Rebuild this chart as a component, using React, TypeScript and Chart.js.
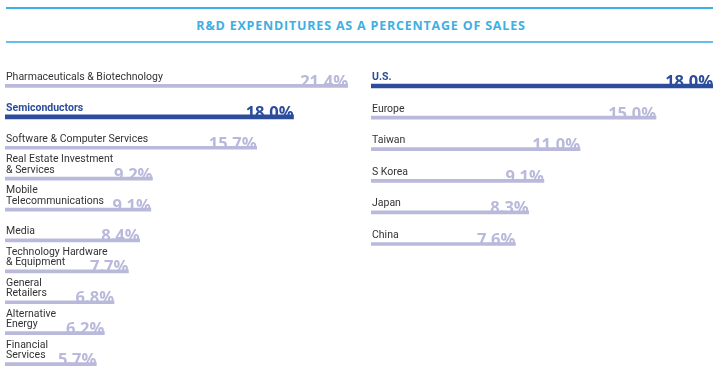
import React, { useEffect, useRef } from "react";
import { Chart, registerables } from "chart.js";

Chart.register(...registerables);

const TITLE = "R&D EXPENDITURES AS A PERCENTAGE OF SALES";

const sectorLabels: string[][] = [
  ["Pharmaceuticals & Biotechnology"],
  ["Semiconductors"],
  ["Software & Computer Services"],
  ["Real Estate Investment", "& Services"],
  ["Mobile", "Telecommunications"],
  ["Media"],
  ["Technology Hardware", "& Equipment"],
  ["General", "Retailers"],
  ["Alternative", "Energy"],
  ["Financial", "Services"],
];
const sectorValues = [21.4, 18.0, 15.7, 9.2, 9.1, 8.4, 7.7, 6.8, 6.2, 5.7];
const sectorHighlight = "Semiconductors";

const regionLabels: string[][] = [["U.S."], ["Europe"], ["Taiwan"], ["S Korea"], ["Japan"], ["China"]];
const regionValues = [18.0, 15.0, 11.0, 9.1, 8.3, 7.6];
const regionHighlight = "U.S.";

const LIGHT = "#b9b9dc";
const DARK = "#2d4d9c";
const TEXT = "#333333";
const CYAN = "#3cb0e3";

function makeLabelPlugin(highlight: string) {
  return {
    id: "barLabels",
    afterDatasetsDraw(chart: any) {
      const ctx = chart.ctx;
      chart.data.datasets.forEach((ds: any, di: number) => {
        const meta = chart.getDatasetMeta(di);
        meta.data.forEach((bar: any, i: number) => {
          const val = ds.data[i];
          if (val === null || val === undefined) return;
          const lines: string[] = chart.data.labels[i];
          const isHl = lines.join(" ") === highlight;
          ctx.save();
          ctx.textAlign = "right";
          ctx.textBaseline = "alphabetic";
          ctx.fillStyle = isHl ? DARK : LIGHT;
          ctx.font = "bold 16.5px 'Open Sans'";
          ctx.fillText(val.toFixed(1) + "%", bar.x, bar.y + 1);
          ctx.textAlign = "left";
          ctx.fillStyle = isHl ? DARK : TEXT;
          ctx.font = (isHl ? "bold " : "") + "10.5px Roboto";
          lines.forEach((ln, j) => {
            ctx.fillText(ln, bar.base + 1, bar.y - 6 - (lines.length - 1 - j) * 10.5);
          });
          ctx.restore();
        });
      });
    },
  };
}

function buildChart(
  canvas: HTMLCanvasElement,
  labels: string[][],
  values: number[],
  highlight: string,
  max: number,
  padding: { left: number; right: number; top: number; bottom: number }
) {
  const isHl = labels.map((l) => l.join(" ") === highlight);
  return new Chart(canvas, {
    type: "bar",
    data: {
      labels: labels as any,
      datasets: [
        {
          data: values.map((v, i) => (isHl[i] ? null : v)) as any,
          backgroundColor: LIGHT,
          barThickness: 3,
          grouped: false,
        } as any,
        {
          data: values.map((v, i) => (isHl[i] ? v : null)) as any,
          backgroundColor: DARK,
          barThickness: 4,
          grouped: false,
        } as any,
      ],
    },
    options: {
      indexAxis: "y",
      animation: false,
      responsive: false,
      maintainAspectRatio: false,
      layout: { padding },
      scales: {
        x: { display: false, min: 0, max },
        y: { display: false },
      },
      plugins: {
        legend: { display: false },
        tooltip: { enabled: false },
        title: { display: false },
      },
    },
    plugins: [makeLabelPlugin(highlight)],
  } as any);
}

export default function App() {
  const leftRef = useRef<HTMLCanvasElement>(null);
  const rightRef = useRef<HTMLCanvasElement>(null);

  useEffect(() => {
    const left = buildChart(leftRef.current!, sectorLabels, sectorValues, sectorHighlight, 21.4, {
      left: 5,
      right: 12,
      top: 70.5,
      bottom: 3.5,
    });
    const right = buildChart(rightRef.current!, regionLabels, regionValues, regionHighlight, 18.0, {
      left: 11,
      right: 9,
      top: 70.2,
      bottom: 123.2,
    });
    return () => {
      left.destroy();
      right.destroy();
    };
  }, []);

  return (
    <div
      style={{
        position: "fixed",
        left: 0,
        top: 0,
        width: 722,
        height: 383,
        background: "#ffffff",
        overflow: "hidden",
      }}
    >
      <div style={{ position: "absolute", left: 6, top: 7, width: 707, height: 1.5, background: CYAN }} />
      <div
        style={{
          position: "absolute",
          left: 0,
          top: 18,
          width: 722,
          textAlign: "center",
          fontFamily: "'Open Sans', sans-serif",
          fontWeight: 700,
          fontSize: "12.5px",
          lineHeight: "16px",
          letterSpacing: "0.8px",
          color: CYAN,
          whiteSpace: "nowrap",
        }}
      >
        {TITLE}
      </div>
      <div style={{ position: "absolute", left: 6, top: 40.5, width: 707, height: 2, background: "#66bfe8" }} />
      <canvas
        ref={leftRef}
        width={360}
        height={383}
        style={{ position: "absolute", left: 0, top: 0, width: 360, height: 383 }}
      />
      <canvas
        ref={rightRef}
        width={362}
        height={383}
        style={{ position: "absolute", left: 360, top: 0, width: 362, height: 383 }}
      />
    </div>
  );
}
